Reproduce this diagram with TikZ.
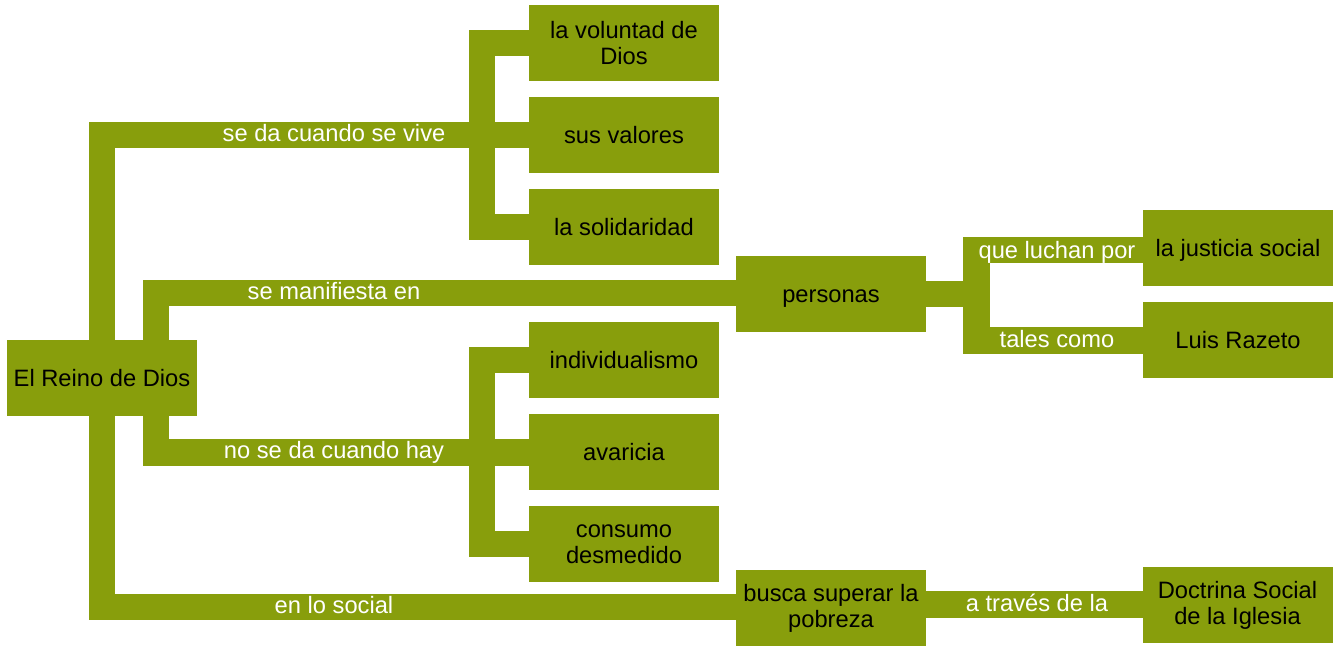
\documentclass[tikz,border=0pt]{standalone}
\usepackage{fontspec}
\setmainfont{Liberation Sans}
\usetikzlibrary{backgrounds}
\definecolor{cmolive}{RGB}{136,158,12}
\begin{document}
\begin{tikzpicture}[x=1pt,y=-1pt,
  concept/.style={fill=cmolive, minimum width=190pt, minimum height=76pt, inner sep=0pt, align=center, text=black, font=\fontsize{23.7}{26}\selectfont},
  oneline/.style={text height=16pt, text depth=0pt},
  linklabel/.style={text=white, inner sep=0pt, text height=12pt, text depth=0pt, font=\fontsize{23.7}{26}\selectfont},
  conn/.style={draw=cmolive, line width=26.5pt, line join=miter, line cap=butt}]
\useasboundingbox (0,0) rectangle (1334,646);

% concepts
\node[concept, oneline] (reino) at (102,378) {El Reino de Dios};
\node[concept] (voluntad) at (624,43) {la voluntad de\\Dios};
\node[concept, oneline] (valores) at (624,135) {sus valores};
\node[concept, oneline] (solidaridad) at (624,227) {la solidaridad};
\node[concept, oneline] (personas) at (831,294) {personas};
\node[concept, oneline] (individualismo) at (624,360) {individualismo};
\node[concept, oneline] (avaricia) at (624,452) {avaricia};
\node[concept] (consumo) at (624,544) {consumo\\desmedido};
\node[concept] (busca) at (831,608) {busca superar la\\pobreza};
\node[concept, oneline] (justicia) at (1238,248) {la justicia social};
\node[concept, oneline] (razeto) at (1238,340) {Luis Razeto};
\node[concept] (doctrina) at (1237.5,605) {Doctrina Social\\de la Iglesia};

% link labels
\node[linklabel] (l1) at (334,135) {se da cuando se vive};
\node[linklabel, text height=13pt] (l2) at (334,293) {se manifiesta en};
\node[linklabel] (l3) at (334,452.5) {no se da cuando hay};
\node[linklabel] (l4) at (334,607) {en lo social};
\node[linklabel, text height=17pt] (l5) at (1057,250) {que luchan por};
\node[linklabel, text height=13pt] (l6) at (1057,340.5) {tales como};
\node[linklabel, text height=13pt] (l7) at (1037,604.5) {a través de la};

% bracket / trunk coordinates
\coordinate (t2) at (156,378);
\coordinate (brA) at (482,135);
\coordinate (brB) at (482,452.5);
\coordinate (brC) at (976.5,294);

\begin{scope}[on background layer]
  % trunk 1
  \draw[conn] (reino.center) |- (l1.center) -- (l1.center -| valores.center);
  \draw[conn] (reino.center) |- (l4.center) -- (l4.center -| busca.center);
  % trunk 2
  \draw[conn] (t2) |- (l2.center) -- (l2.center -| personas.center);
  \draw[conn] (t2) |- (l3.center) -- (l3.center -| avaricia.center);
  % bracket A
  \draw[conn] (voluntad.center) -| (brA) |- (solidaridad.center);
  % bracket B
  \draw[conn] (individualismo.center) -| (brB) |- (consumo.center);
  % personas branch
  \draw[conn] (personas.center) -- (brC);
  \draw[conn] (l5.center -| justicia.center) -- (l5.center) -| (brC) |- (l6.center) -- (l6.center -| razeto.center);
  % busca branch
  \draw[conn] (l7.center -| busca.center) -- (l7.center) -- (l7.center -| doctrina.center);
\end{scope}
\end{tikzpicture}
\end{document}
